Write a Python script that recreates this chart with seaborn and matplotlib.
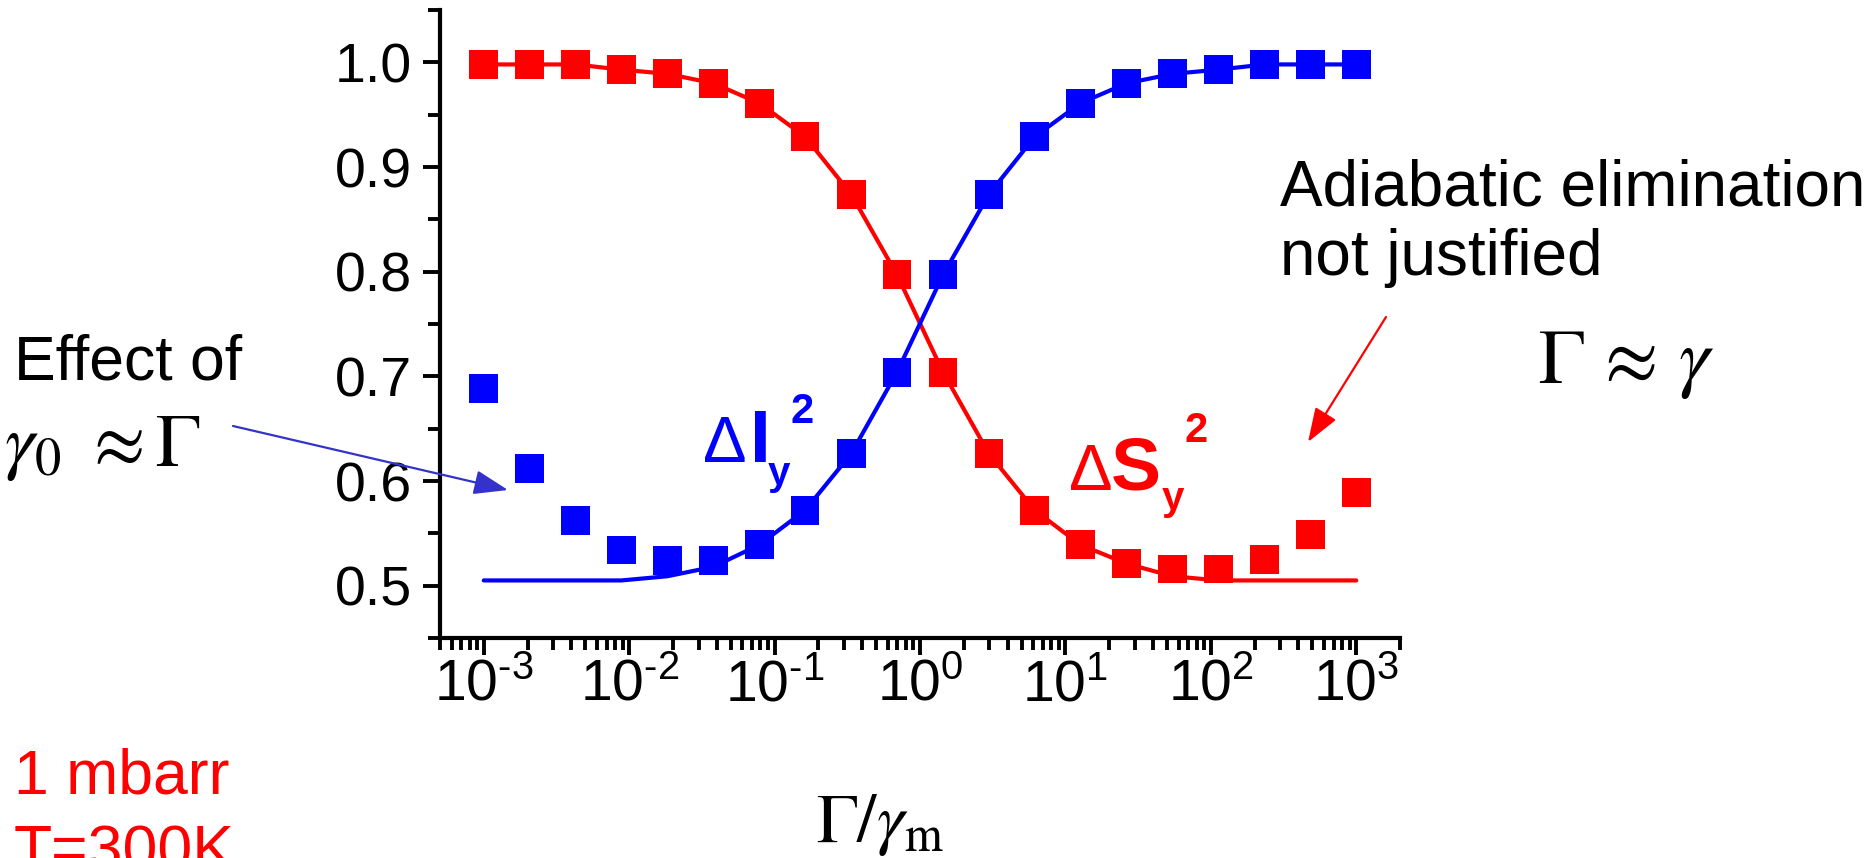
import numpy as np
import pandas as pd
import seaborn as sns
import matplotlib.pyplot as plt
from matplotlib.ticker import (MultipleLocator, FormatStrFormatter, LogLocator, NullFormatter,
                               FuncFormatter)

W, H = 1873, 858

# x = Gamma / gamma_m
ratio = [0.001, 0.00207, 0.00428, 0.00886, 0.0183, 0.0379, 0.0785, 0.162, 0.336, 0.695,
         1.44, 2.98, 6.16, 12.7, 26.4, 54.6, 113, 234, 483, 1000]

# red: Delta S_y^2
s_meas = [0.998, 0.998, 0.998, 0.993, 0.989, 0.980, 0.961, 0.929, 0.874, 0.797,
          0.704, 0.626, 0.572, 0.539, 0.521, 0.516, 0.516, 0.525, 0.549, 0.589]
s_theory = [0.998, 0.998, 0.998, 0.993, 0.989, 0.980, 0.961, 0.929, 0.874, 0.797,
            0.704, 0.626, 0.572, 0.539, 0.521, 0.509, 0.505, 0.505, 0.505, 0.505]

# blue: Delta I_y^2
i_meas = [0.688, 0.612, 0.562, 0.534, 0.524, 0.524, 0.539, 0.572, 0.626, 0.704,
          0.797, 0.874, 0.929, 0.961, 0.980, 0.989, 0.993, 0.998, 0.998, 0.998]
i_theory = [0.505, 0.505, 0.505, 0.505, 0.509, 0.518, 0.539, 0.572, 0.626, 0.704,
            0.797, 0.874, 0.929, 0.961, 0.980, 0.989, 0.993, 0.998, 0.998, 0.998]

y_ticks = [0.5, 0.6, 0.7, 0.8, 0.9, 1.0]

df = pd.DataFrame({
    "ratio": ratio * 2,
    "measured": s_meas + i_meas,
    "theory": s_theory + i_theory,
    "series": ["S"] * len(ratio) + ["I"] * len(ratio),
})
pal = {"S": "#ff0000", "I": "#0000ff"}

sns.set_theme(style="ticks")
plt.rcParams["font.family"] = ["Liberation Sans", "DejaVu Sans"]
plt.rcParams["mathtext.fontset"] = "custom"
plt.rcParams["mathtext.rm"] = "Liberation Sans"
plt.rcParams["mathtext.it"] = "Liberation Sans:italic"
plt.rcParams["mathtext.bf"] = "Liberation Sans:bold"
plt.rcParams["axes.unicode_minus"] = False

fig = plt.figure(figsize=(W / 100, H / 100), dpi=100, facecolor="white")
ax = fig.add_axes([440 / W, 1 - 638 / H, 960 / W, 628 / H])
ax.set_xscale("log")

sns.lineplot(data=df, x="ratio", y="theory", hue="series", palette=pal, estimator=None,
             linewidth=3, legend=False, ax=ax, solid_capstyle="round")
sns.scatterplot(data=df, x="ratio", y="measured", hue="series", palette=pal, marker="s",
                s=430, linewidth=0, legend=False, ax=ax, zorder=3)

ax.set_xlim(5e-4, 2e3)
ax.set_ylim(0.45, 1.05)
ax.set_xlabel("")
ax.set_ylabel("")
ax.set_yticks(y_ticks)
ax.yaxis.set_minor_locator(MultipleLocator(0.05))
ax.yaxis.set_major_formatter(FormatStrFormatter("%.1f"))
ax.xaxis.set_major_locator(LogLocator(base=10, numticks=20))
ax.xaxis.set_minor_locator(LogLocator(base=10, subs=np.arange(2, 10), numticks=100))
ax.xaxis.set_minor_formatter(NullFormatter())


def decade(v, pos):
    e = int(round(np.log10(v)))
    if e < 0:
        return r"$10^{\text{-}%d}$" % (-e)
    return r"$10^{%d}$" % e


ax.xaxis.set_major_formatter(FuncFormatter(decade))

for side in ["top", "right"]:
    ax.spines[side].set_visible(False)
for side in ["left", "bottom"]:
    ax.spines[side].set_linewidth(3)
    ax.spines[side].set_color("black")

ax.tick_params(which="major", length=12, width=2.8, direction="out", color="black",
               labelcolor="black")
ax.tick_params(which="minor", length=8.5, width=2.8, direction="out", color="black")
ax.tick_params(axis="y", labelsize=40, pad=8)
ax.tick_params(axis="x", labelsize=41, pad=3)


def put(x, y, s, **kw):
    fig.text(x / W, 1 - y / H, s, va="baseline", ha=kw.pop("ha", "left"), **kw)


def arrow(x1, y1, x2, y2, color):
    ax.annotate("", xy=(x2, H - y2), xycoords="figure pixels",
                xytext=(x1, H - y1), textcoords="figure pixels",
                arrowprops=dict(arrowstyle="-|>,head_length=0.7,head_width=0.25", color=color,
                                lw=1.6, shrinkA=0, shrinkB=0, mutation_scale=30),
                annotation_clip=False)


# curve labels
put(703, 462, "\u0394", fontsize=47, color="#0000ff")
put(750, 462, "I", fontsize=54, color="#0000ff", fontweight="bold")
put(768, 485, "y", fontsize=29, color="#0000ff", fontweight="bold")
put(790, 423, "2", fontsize=30, color="#0000ff", fontweight="bold")

put(1069, 490, "\u0394", fontsize=47, color="#ff0000")
put(1111, 490, "S", fontsize=54, color="#ff0000", fontweight="bold")
put(1162, 510, "y", fontsize=29, color="#ff0000", fontweight="bold")
put(1184, 442, "2", fontsize=30, color="#ff0000", fontweight="bold")

# side notes
put(14, 380, "Effect of", fontsize=45, color="black")
put(4, 466, r"$\gamma_0\ \approx\Gamma$", fontsize=54, color="black", math_fontfamily="stix")
put(1280, 205, "Adiabatic elimination", fontsize=46, color="black")
put(1280, 275, "not justified", fontsize=46, color="black")
put(1538, 383, r"$\Gamma\,\approx\,\gamma$", fontsize=56, color="black", math_fontfamily="stix")
put(14, 794, "1 mbarr", fontsize=45, color="#ff0000")
put(14, 870, "T=300K", fontsize=45, color="#ff0000")
put(816, 842, r"$\Gamma/\gamma_{\mathrm{m}}$", fontsize=50, color="black", math_fontfamily="stix")

arrow(233, 426, 508, 490, "#3333cc")
arrow(1386, 317, 1308, 442, "#ff0000")

fig.savefig("out.png", dpi=100, facecolor="white")
plt.close(fig)
